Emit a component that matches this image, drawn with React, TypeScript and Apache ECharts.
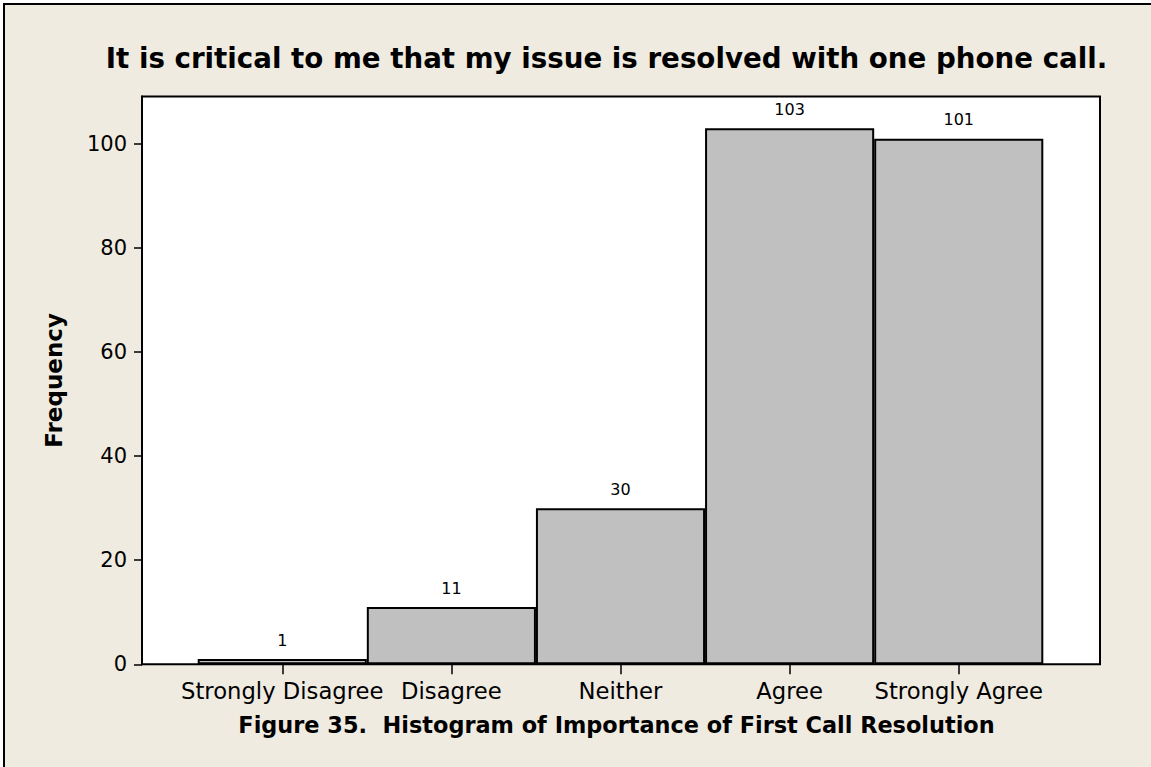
import React, { useEffect, useRef } from "react";
import * as echarts from "echarts";

const categories = ["Strongly Disagree", "Disagree", "Neither", "Agree", "Strongly Agree"];
const frequencies = [1, 11, 30, 103, 101];
const yTicks = [0, 20, 40, 60, 80, 100];
const yMax = 109.1;
const titleText = "It is critical to me that my issue is resolved with one phone call.";
const captionText = "Figure 35.\u00a0 Histogram of Importance of First Call Resolution";
const yName = "Frequency";

const FONT = "'DejaVu Sans', Verdana, sans-serif";

export default function App() {
  const ref = useRef<HTMLDivElement>(null);
  useEffect(() => {
    if (!ref.current) return;
    const chart = echarts.init(ref.current, undefined, { renderer: "svg" });
    const gridTop = 96.5;
    const gridBottom = 102.7;
    chart.setOption({
      animation: false,
      backgroundColor: "#ffffff",
      textStyle: { fontFamily: FONT },
      graphic: [
        {
          type: "rect",
          z: -100,
          silent: true,
          shape: { x: 4, y: 4, width: 1200, height: 800 },
          style: { fill: "#EFEBE1", stroke: "#000", lineWidth: 2 },
        },
        {
          type: "text",
          x: 606.5,
          y: 58,
          style: {
            text: titleText,
            fontFamily: FONT,
            fontWeight: "bold",
            fontSize: 27.7,
            fill: "#000",
            align: "center",
            verticalAlign: "middle",
          },
        },
        {
          type: "text",
          x: 616.5,
          y: 725,
          style: {
            text: captionText,
            fontFamily: FONT,
            fontWeight: "bold",
            fontSize: 22.4,
            fill: "#000",
            align: "center",
            verticalAlign: "middle",
          },
        },
      ],
      grid: [
        {
          left: 142,
          right: 51,
          top: gridTop,
          bottom: gridBottom,
          show: true,
          backgroundColor: "#ffffff",
          borderColor: "#000",
          borderWidth: 2,
        },
        {
          left: 197.7,
          right: 1151 - 1043.3,
          top: gridTop,
          bottom: gridBottom,
        },
      ],
      xAxis: [
        { type: "value", gridIndex: 0, show: false, min: 0, max: 1 },
        {
          type: "category",
          gridIndex: 1,
          data: categories,
          axisLine: { show: false },
          axisTick: { show: true, alignWithLabel: true, length: 10, lineStyle: { color: "#000", width: 1.5 } },
          axisLabel: { color: "#000", fontSize: 22.7, fontFamily: FONT, margin: 15.5, interval: 0 },
        },
      ],
      yAxis: [
        {
          type: "value",
          gridIndex: 0,
          min: 0,
          max: yMax,
          name: yName,
          nameLocation: "middle",
          nameGap: 77,
          nameTextStyle: { color: "#000", fontSize: 23, fontWeight: "bold", fontFamily: FONT },
          axisLine: { show: true, lineStyle: { color: "#000", width: 2 } },
          axisTick: { show: true, length: 8, customValues: yTicks, lineStyle: { color: "#000", width: 1.5 } },
          axisLabel: { color: "#000", fontSize: 21, fontFamily: FONT, margin: 15, customValues: yTicks },
          splitLine: { show: false },
        },
        { type: "value", gridIndex: 1, min: 0, max: yMax, show: false, splitLine: { show: false } },
      ],
      series: [
        {
          type: "bar",
          xAxisIndex: 1,
          yAxisIndex: 1,
          data: frequencies,
          barCategoryGap: "0%",
          itemStyle: { color: "#C0C0C0", borderColor: "#000", borderWidth: 2 },
          label: { show: true, position: "top", distance: 11, color: "#000", fontSize: 16, fontFamily: FONT },
        },
      ],
    });
    return () => chart.dispose();
  }, []);
  return (
    <div style={{ position: "fixed", left: 0, top: 0, width: 1151, height: 767, background: "#fff" }}>
      <div ref={ref} style={{ width: 1151, height: 767 }} />
    </div>
  );
}
